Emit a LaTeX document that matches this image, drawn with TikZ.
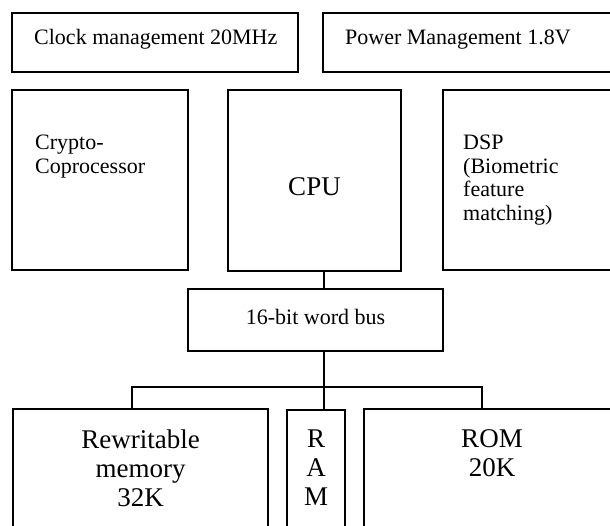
\documentclass[tikz,border=0pt]{standalone}
\usepackage{fontspec}
\setmainfont{Liberation Serif}
\begin{document}
\begin{tikzpicture}[x=1pt,y=-1pt,
  blk/.style={draw, line width=1.8pt, inner sep=0pt},
  smalltxt/.style={inner sep=0pt, font=\fontsize{22}{23.5}\selectfont},
  bigtxt/.style={inner sep=0pt, font=\fontsize{27}{29}\selectfont},
  wire/.style={line width=1.8pt}]
\useasboundingbox (0,0) rectangle (610,526);
\clip (0,0) rectangle (610,526);
% boxes
\node[blk, minimum width=286pt, minimum height=59pt] (clock) at (155,42.5) {};
\node[blk, minimum width=302pt, minimum height=59pt] (power) at (474,42.5) {};
\node[blk, minimum width=176pt, minimum height=180pt] (crypto) at (100,180) {};
\node[blk, minimum width=173pt, minimum height=181pt] (cpu) at (314.5,180.5) {};
\node[blk, minimum width=182pt, minimum height=180pt] (dsp) at (534,180) {};
\node[blk, minimum width=255pt, minimum height=62pt] (bus) at (315.5,320) {};
\node[blk, minimum width=255pt, minimum height=136pt] (rw) at (140.5,477) {};
\node[blk, minimum width=58pt, minimum height=135pt] (ram) at (316,477.5) {};
\node[blk, minimum width=256pt, minimum height=136pt] (rom) at (492,477) {};
% texts
\node[smalltxt, anchor=base west] (clockt) at (34,45) {Clock management 20MHz};
\node[smalltxt, anchor=base west] (powert) at (345,45) {Power Management 1.8V};
\node[smalltxt, anchor=base west] (cryptot) at (35,150) {\begin{tabular}[t]{@{}l@{}}Crypto-\\Coprocessor\end{tabular}};
\node[bigtxt, anchor=base] (cput) at (314.5,196) {CPU};
\node[smalltxt, anchor=base west] (dspt) at (463,150) {\begin{tabular}[t]{@{}l@{}}DSP\\(Biometric\\feature\\matching)\end{tabular}};
\node[smalltxt, anchor=base] (bust) at (315.5,325) {16-bit word bus};
\node[bigtxt, anchor=base] (rwt) at (140.5,448) {\begin{tabular}[t]{@{}c@{}}Rewritable\\memory\\32K\end{tabular}};
\node[bigtxt, anchor=base] (ramt) at (316,447) {\begin{tabular}[t]{@{}c@{}}R\\A\\M\end{tabular}};
\node[bigtxt, anchor=base] (romt) at (492,447) {\begin{tabular}[t]{@{}c@{}}ROM\\20K\end{tabular}};
% connectors
\coordinate (j) at (324,387);
\coordinate (jl) at (132,387);
\coordinate (jr) at (482,387);
\draw[wire] (j |- cpu.south) -- (j |- bus.north);
\draw[wire] (j |- bus.south) -- (j) -- (j |- ram.north);
\draw[wire] (jl |- rw.north) -- (jl) -- (jr) -- (jr |- rom.north);
\end{tikzpicture}
\end{document}
